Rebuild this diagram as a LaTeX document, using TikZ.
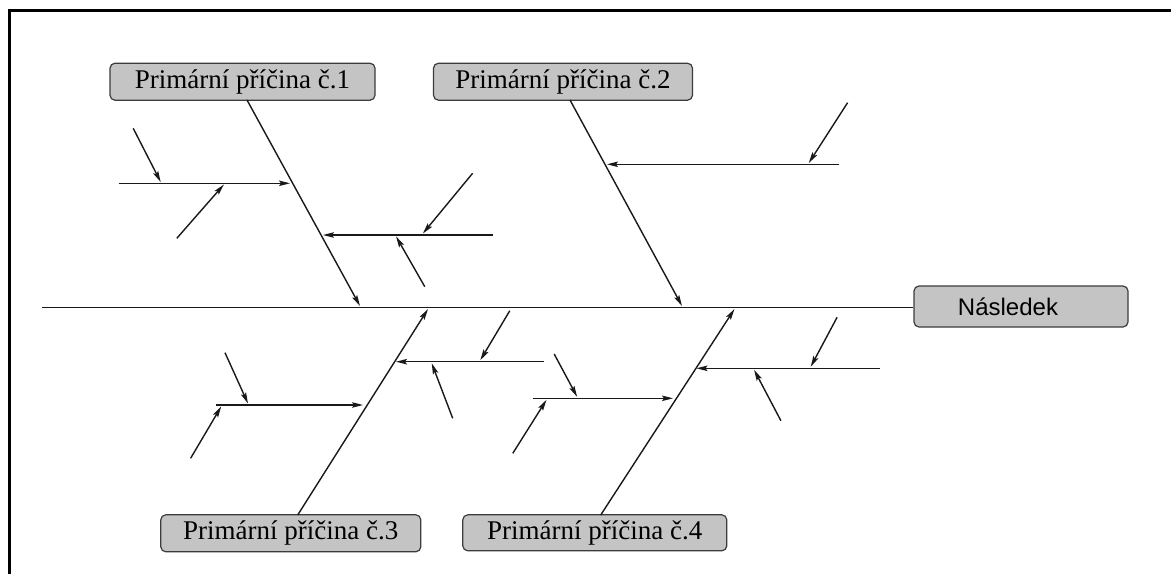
\documentclass[tikz,border=0pt]{standalone}
\usepackage{fontspec}
\setmainfont{Liberation Serif}
\newfontfamily\headfont{Liberation Sans}
\newfontfamily\causefont{Liberation Serif}
\usetikzlibrary{arrows.meta}
\definecolor{boxfill}{RGB}{196,196,196}
\definecolor{boxline}{RGB}{60,60,60}
\definecolor{inkline}{RGB}{25,25,25}
\tikzset{
  causebox/.style={draw=boxline, fill=boxfill, line width=1.2pt, rounded corners=5pt,
    inner sep=0pt, font=\causefont\fontsize{27}{30}\selectfont},
  effectbox/.style={draw=boxline, fill=boxfill, line width=1.2pt, rounded corners=5pt,
    inner sep=0pt, font=\headfont\fontsize{24}{28}\selectfont},
  bone/.style={draw=inkline, line width=1.4pt},
  arr/.style={bone, -{Stealth[length=11pt, width=5.5pt, inset=2pt]}},
  frameline/.style={draw=black, line width=3pt}
}
\begin{document}
\begin{tikzpicture}[x=1pt, y=-1pt]
\useasboundingbox (0,0) rectangle (1171,574);
\fill[white] (0,0) rectangle (1171,574);
% frame
\draw[frameline] (1171,10.5) -- (9.5,10.5) -- (9.5,574);

% boxes
\node[causebox, minimum width=265pt, minimum height=37pt] (c1) at (242.5,81.7) {Primární příčina č.1};
\node[causebox, minimum width=259pt, minimum height=37pt] (c2) at (563,81.7) {Primární příčina č.2};
\node[causebox, minimum width=260pt, minimum height=37pt] (c3) at (290.8,533.3) {Primární příčina č.3};
\node[causebox, minimum width=264pt, minimum height=36pt] (c4) at (594.8,532.8) {Primární příčina č.4};
\node[effectbox, minimum width=214pt, minimum height=41pt] (out) at (1021,306.5) {\rule{0pt}{17pt}Následek\hspace*{26pt}};

% spine
\coordinate (sp) at (42,307.7);
\draw[bone] (sp) -- (sp -| out.west);

% main bones
\coordinate (b1s) at (247,100);   \coordinate (b1e) at (360,306);
\coordinate (b2s) at (570,100);   \coordinate (b2e) at (682,306);
\coordinate (b3s) at (297.7,515); \coordinate (b3e) at (428,309);
\coordinate (b4s) at (600.7,515); \coordinate (b4e) at (734.5,309);
\draw[arr] (b1s) -- (b1e);
\draw[arr] (b2s) -- (b2e);
\draw[arr] (b3s) -- (b3e);
\draw[arr] (b4s) -- (b4e);

% bone 1 branches
\coordinate (a1s) at (118.6,183.3); \coordinate (a1e) at (290,183.3);
\draw[arr] (a1s) -- (a1e);
\coordinate (a1is) at (133.2,128.3); \coordinate (a1ie) at (160.7,182);
\draw[arr] (a1is) -- (a1ie);
\coordinate (a1js) at (176.8,238.3); \coordinate (a1je) at (223.9,184.5);
\draw[arr] (a1js) -- (a1je);
\coordinate (b1bs) at (492.9,235); \coordinate (b1be) at (323,235);
\draw[arr] (b1bs) -- (b1be);
\coordinate (b1is) at (472.6,173.3); \coordinate (b1ie) at (422.9,233.5);
\draw[arr] (b1is) -- (b1ie);
\coordinate (b1js) at (424.8,286.7); \coordinate (b1je) at (396.1,236.5);
\draw[arr] (b1js) -- (b1je);

% bone 2 branches
\coordinate (a2s) at (838.6,164.3); \coordinate (a2e) at (607,164.3);
\draw[arr] (a2s) -- (a2e);
\coordinate (a2is) at (847.6,102.7); \coordinate (a2ie) at (808.8,163);
\draw[arr] (a2is) -- (a2ie);

% bone 3 branches
\coordinate (a3s) at (215.5,405); \coordinate (a3e) at (363,405);
\draw[arr] (a3s) -- (a3e);
\coordinate (a3is) at (225,352.7); \coordinate (a3ie) at (248,403.5);
\draw[arr] (a3is) -- (a3ie);
\coordinate (a3js) at (190.6,458.3); \coordinate (a3je) at (221.2,406.5);
\draw[arr] (a3js) -- (a3je);
\coordinate (b3bs) at (544.2,361.7); \coordinate (b3be) at (396,361.7);
\draw[arr] (b3bs) -- (b3be);
\coordinate (b3is) at (509.8,310.7); \coordinate (b3ie) at (480.3,360.2);
\draw[arr] (b3is) -- (b3ie);
\coordinate (b3js) at (452.7,418.3); \coordinate (b3je) at (431.7,363.2);
\draw[arr] (b3js) -- (b3je);

% bone 4 branches
\coordinate (a4s) at (532.7,398.3); \coordinate (a4e) at (673,398.3);
\draw[arr] (a4s) -- (a4e);
\coordinate (a4is) at (554.2,354); \coordinate (a4ie) at (577.1,396.8);
\draw[arr] (a4is) -- (a4ie);
\coordinate (a4js) at (512.8,453.3); \coordinate (a4je) at (546.5,399.8);
\draw[arr] (a4js) -- (a4je);
\coordinate (b4bs) at (879.7,368.3); \coordinate (b4be) at (696.5,368.3);
\draw[arr] (b4bs) -- (b4be);
\coordinate (b4is) at (837.1,317.3); \coordinate (b4ie) at (810.7,366.8);
\draw[arr] (b4is) -- (b4ie);
\coordinate (b4js) at (780.9,420.7); \coordinate (b4je) at (754.1,369.8);
\draw[arr] (b4js) -- (b4je);
\end{tikzpicture}
\end{document}
